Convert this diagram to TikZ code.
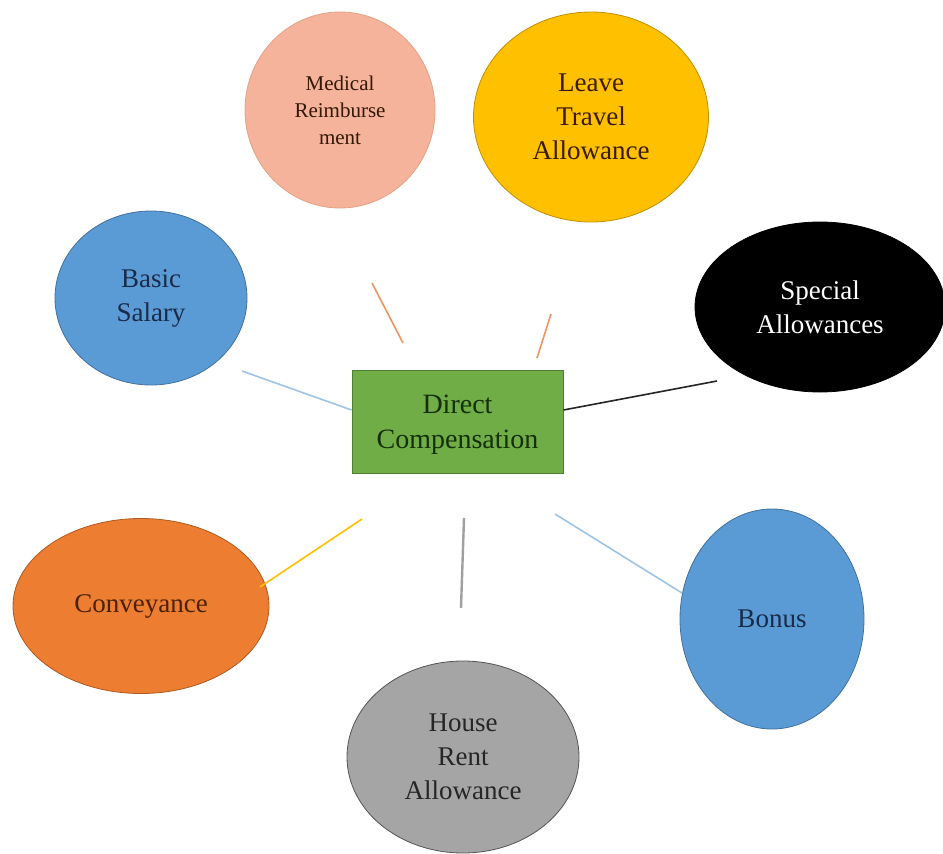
\documentclass[tikz,border=0pt]{standalone}
\usepackage{fontspec}
\setmainfont{Liberation Serif}
\usetikzlibrary{shapes.geometric}
\definecolor{medfill}{HTML}{F4B39A}
\definecolor{medline}{HTML}{E3A283}
\definecolor{leavefill}{HTML}{FFC000}
\definecolor{leaveline}{HTML}{BF9000}
\definecolor{bluefill}{HTML}{5B9BD5}
\definecolor{blueline}{HTML}{41719C}
\definecolor{convfill}{HTML}{ED7D31}
\definecolor{convline}{HTML}{AE5A21}
\definecolor{housefill}{HTML}{A5A5A5}
\definecolor{houseline}{HTML}{555555}
\definecolor{rectfill}{HTML}{70AD47}
\definecolor{rectline}{HTML}{507E32}
\definecolor{conorange}{HTML}{F0945F}
\definecolor{conblue}{HTML}{9DC3E6}
\definecolor{conyellow}{HTML}{FFC000}
\definecolor{congray}{HTML}{A0A0A0}
\definecolor{navytext}{HTML}{1A2B4A}
\definecolor{browntext}{HTML}{4A2208}
\definecolor{greentext}{HTML}{143008}
\tikzset{
  bubble/.style={ellipse, inner sep=0pt, line width=0.8pt, align=center,
    font=\fontsize{27}{34}\selectfont},
  conn/.style={line width=1.6pt}
}
\begin{document}
\begin{tikzpicture}[x=1pt,y=-1pt]
\useasboundingbox (0,0) rectangle (943,854);
% central box
\node[rectangle, fill=rectfill, draw=rectline, line width=1pt,
  minimum width=211pt, minimum height=103pt, inner sep=0pt] (dc) at (457.5,421.5) {};
\node[align=center, inner sep=0pt, text=greentext, font=\fontsize{28}{35}\selectfont]
  (dctext) at (457.5,425) {Direct\\Compensation};
% surrounding ellipses
\node[bubble, fill=medfill, draw=medline, minimum width=190pt, minimum height=196pt,
  text=browntext!70!black, font=\fontsize{21}{27}\selectfont] (med) at (340,110) {Medical\\Reimburse\\ment};
\node[bubble, fill=leavefill, draw=leaveline, minimum width=235pt, minimum height=210pt,
  text=browntext!80!black] (lta) at (591,117) {Leave\\Travel\\Allowance};
\node[bubble, fill=bluefill, draw=blueline, minimum width=192pt, minimum height=174pt,
  text=navytext] (basic) at (151,298) {Basic\\Salary};
\node[bubble, fill=black, draw=black, minimum width=250pt, minimum height=170pt,
  text=white] (spec) at (820,307) {Special\\Allowances};
\node[bubble, fill=convfill, draw=convline, minimum width=256pt, minimum height=175pt,
  text=browntext] (conv) at (141,606) {Conveyance};
\node[bubble, fill=housefill, draw=houseline, minimum width=232pt, minimum height=192pt,
  text=black!85] (hra) at (463,757) {House\\Rent\\Allowance};
\node[bubble, fill=bluefill, draw=blueline, minimum width=184pt, minimum height=220pt,
  text=navytext] (bonus) at (772,619) {Bonus};
% connector end points
\coordinate (m1) at (372,283); \coordinate (m2) at (403,343);
\coordinate (l1) at (551,314); \coordinate (l2) at (537,358);
\coordinate (b1) at (242,371); \coordinate (b2) at (dc.west |- 0,410);
\coordinate (s1) at (717,381); \coordinate (s2) at (dc.east |- 0,410);
\coordinate (c1) at (362,519); \coordinate (c2) at (260,587);
\coordinate (h1) at (464,518); \coordinate (h2) at (461,608);
\coordinate (o1) at (555,514); \coordinate (o2) at (682,593);
\draw[conn, conorange] (m1) -- (m2);
\draw[conn, conorange] (l1) -- (l2);
\draw[conn, conblue] (b1) -- (b2);
\draw[conn, black!85] (s1) -- (s2);
\draw[conn, conyellow] (c1) -- (c2);
\draw[conn, congray, line width=2.4pt] (h1) -- (h2);
\draw[conn, conblue] (o1) -- (o2);
\end{tikzpicture}
\end{document}
